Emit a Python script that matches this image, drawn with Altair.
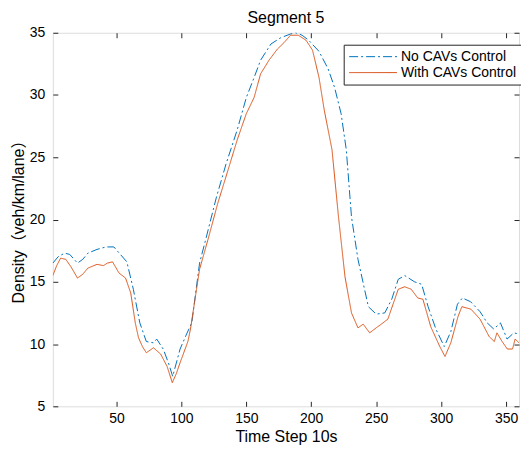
import altair as alt
import pandas as pd

series_names = ["No CAVs Control", "With CAVs Control"]
series_colors = ["#0072BD", "#D95319"]

no_cav_t = [1, 5, 10, 14, 20, 24, 28, 35, 42, 48, 53, 58, 63, 68, 73, 78.5, 81, 86, 90, 93.3,
            99, 104, 108, 114, 118, 127, 134.5, 143, 150, 156, 161, 169, 176.5, 184, 188, 193,
            198, 206, 213, 218, 223, 227, 231, 236, 240, 244, 250, 256.6, 262, 267, 272, 279.5,
            285, 290, 296, 302.4, 307.5, 312.6, 316.4, 322.7, 330, 335.5, 340.6, 345.7, 350.8,
            356, 360]
no_cav_d = [16.5, 17.0, 17.3, 17.2, 16.5, 16.8, 17.3, 17.6, 17.8, 17.8, 17.2, 16.6, 14.4, 11.7,
            10.2, 10.1, 10.4, 9.6, 8.5, 7.4, 9.6, 10.8, 11.7, 16.5, 18.1, 21.8, 24.5, 27.2, 29.8,
            31.4, 32.8, 34.1, 34.6, 34.9, 35.0, 34.8, 34.4, 33.5, 32.1, 30.6, 28.5, 25.6, 20.2,
            16.8, 14.9, 13.0, 12.4, 12.5, 13.6, 15.2, 15.5, 15.0, 14.8, 13.0, 11.2, 9.8, 11.0,
            13.2, 13.7, 13.4, 12.6, 11.7, 11.2, 11.7, 10.4, 10.9, 10.8]

with_cav_t = [1, 4, 7, 11, 15, 20, 24, 28, 35, 40, 43, 47, 52, 57, 61, 64.5, 67, 70, 73, 78.5,
              84, 89, 93, 96, 99, 105, 107, 114, 120.5, 128, 136, 143, 150, 156, 161, 167.5, 174,
              179, 184, 190, 196, 201, 206, 210, 216, 221, 226, 231, 236, 240, 245, 250, 254, 259,
              263, 267, 272, 277, 282, 286, 292, 299, 303, 307.5, 313, 316, 323, 330, 334, 337,
              341, 343, 347, 351, 355, 357, 360]
with_cav_d = [15.5, 16.3, 16.9, 16.8, 16.2, 15.3, 15.6, 16.1, 16.4, 16.3, 16.5, 16.6, 15.7, 15.3,
              14.1, 11.7, 10.5, 9.8, 9.3, 9.7, 9.2, 8.2, 6.9, 7.6, 8.5, 10.2, 11.2, 16.0, 18.4,
              21.3, 24.0, 26.4, 28.5, 29.8, 31.7, 32.8, 33.7, 34.2, 34.8, 34.8, 34.4, 33.6, 31.4,
              28.8, 25.6, 20.2, 15.4, 12.5, 11.3, 11.6, 10.9, 11.3, 11.6, 12.0, 13.2, 14.4, 14.6,
              14.4, 13.7, 13.6, 11.4, 9.8, 9.0, 10.1, 12.2, 13.0, 12.8, 12.0, 11.2, 10.6, 10.2,
              10.9, 10.2, 9.6, 9.6, 10.4, 10.1]

x_ticks = [50, 100, 150, 200, 250, 300, 350]
y_ticks = [5, 10, 15, 20, 25, 30, 35]
x_domain = [1, 360]
y_domain = [5, 35]

rows = []
for t, d in zip(no_cav_t, no_cav_d):
    rows.append({"t": t, "d": d, "series": series_names[0]})
for t, d in zip(with_cav_t, with_cav_d):
    rows.append({"t": t, "d": d, "series": series_names[1]})
df = pd.DataFrame(rows)

W, H = 468, 375
FONT = "Liberation Sans, Arial, Helvetica, Noto Sans CJK SC, sans-serif"
INK = "#262626"

x_scale = alt.Scale(domain=x_domain, nice=False, zero=False)
y_scale = alt.Scale(domain=y_domain, nice=False, zero=False)

# legend: a 48px horizontal line sample drawn with a custom symbol path
leg = alt.Legend(
    title=None, orient="none", legendX=292, legendY=12,
    symbolType="M-4,0H4", symbolSize=144, symbolStrokeWidth=1, symbolOffset=17.5,
    labelFontSize=14, labelFont=FONT, labelColor="#000000", labelOffset=21,
    padding=5, rowPadding=2, strokeColor=INK, fillColor="white", cornerRadius=0,
)

lines = alt.Chart(df).mark_line(strokeWidth=1, clip=True).encode(
    x=alt.X("t:Q", scale=x_scale, axis=alt.Axis(
        values=x_ticks, title="Time Step 10s", ticks=False, domain=False, grid=False,
        labelPadding=5, titlePadding=3, labelFontSize=14, titleFontSize=16,
        titleFontWeight="normal", labelFont=FONT, titleFont=FONT)),
    y=alt.Y("d:Q", scale=y_scale, axis=alt.Axis(
        values=y_ticks, title="Density（veh/km/lane）", ticks=False, domain=False, grid=False,
        labelPadding=8, titlePadding=3, labelFontSize=14, titleFontSize=16,
        titleFontWeight="normal", labelFont=FONT, titleFont=FONT, titleY=H / 2 - 2)),
    color=alt.Color("series:N", scale=alt.Scale(domain=series_names, range=series_colors), legend=leg),
    strokeDash=alt.StrokeDash("series:N", scale=alt.Scale(domain=series_names, range=[[9, 3, 2, 3], [1, 0]]), legend=leg),
)

tick_axis = dict(labels=False, domain=False, grid=False, ticks=True, tickSize=5,
                 tickColor=INK, tickWidth=1, title=None)

ticks_bl = alt.Chart(df).mark_line(opacity=0).encode(
    x=alt.X("t:Q", scale=x_scale, axis=alt.Axis(orient="top", offset=-H, values=x_ticks, **tick_axis)),
    y=alt.Y("d:Q", scale=y_scale, axis=alt.Axis(orient="right", offset=-W, values=y_ticks, **tick_axis)),
)
ticks_tr = alt.Chart(df).mark_line(opacity=0).encode(
    x=alt.X("t:Q", scale=x_scale, axis=alt.Axis(orient="bottom", offset=-H, values=x_ticks, **tick_axis)),
    y=alt.Y("d:Q", scale=y_scale, axis=alt.Axis(orient="left", offset=-W, values=y_ticks, **tick_axis)),
)

chart = alt.layer(lines, ticks_bl, ticks_tr).resolve_axis(
    x="independent", y="independent"
).properties(
    width=W, height=H,
    title=alt.Title("Segment 5", fontSize=16, font=FONT, fontWeight="normal", color="#000000",
                    offset=0),
    padding={"left": 45, "top": 24, "right": 2, "bottom": 40},
    autosize=alt.AutoSizeParams(type="none"),
).configure_view(
    stroke=INK, strokeWidth=1
).configure_axis(
    labelColor=INK, titleColor=INK, titleFontWeight="normal"
).configure(background="white")

chart.save("out.html", embed_options={"renderer": "svg", "actions": False})
